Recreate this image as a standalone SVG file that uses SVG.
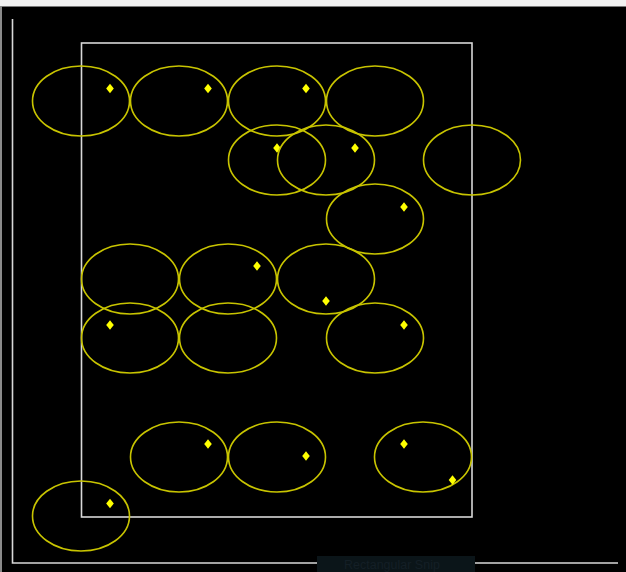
<svg xmlns="http://www.w3.org/2000/svg" width="626" height="572" viewBox="0 0 626 572">
<style>
.e{fill:none;stroke:#c8c400;stroke-width:1.6}
.d{fill:#ffff00}
.ax{stroke:#d8d8d8;stroke-width:1.6;fill:none}
</style>
<defs>
<ellipse id="el" class="e" cx="0" cy="0" rx="48.5" ry="35"/>
<path id="dm" class="d" d="M0,-4.8 L3.8,0 L0,4.8 L-3.8,0 Z"/>
</defs>
<rect width="626" height="572" fill="#000"/>
<rect x="0" y="0" width="626" height="6.5" fill="#f2f2f2"/>
<rect x="0" y="6" width="2" height="566" fill="#8a8a8a"/>
<g id="axes">
<polyline class="ax" points="12.5,19 12.5,563 618,563"/>
<rect class="ax" x="81.5" y="43" width="390.5" height="474"/>
</g>
<g id="snip">
<rect x="317" y="556" width="158" height="16" fill="#0b1519"/>
<text x="344" y="568.5" font-family="Liberation Sans, sans-serif" font-size="12.5" fill="#141f26">Rectangular Snip</text>
</g>
<g id="n1"><use href="#el" x="81" y="101"/><use href="#dm" x="110" y="88.5"/></g>
<g id="n2"><use href="#el" x="179" y="101"/><use href="#dm" x="208" y="88.5"/></g>
<g id="n3"><use href="#el" x="277" y="101"/><use href="#dm" x="306" y="88.5"/></g>
<g id="n4"><use href="#el" x="375" y="101"/></g>
<g id="n5"><use href="#el" x="277" y="160"/><use href="#dm" x="277" y="148"/></g>
<g id="n6"><use href="#el" x="326" y="160"/><use href="#dm" x="355" y="148"/></g>
<g id="n7"><use href="#el" x="472" y="160"/></g>
<g id="n8"><use href="#el" x="375" y="219"/><use href="#dm" x="404" y="207"/></g>
<g id="n9"><use href="#el" x="130" y="279"/></g>
<g id="n10"><use href="#el" x="228" y="279"/><use href="#dm" x="257" y="266"/></g>
<g id="n11"><use href="#el" x="326" y="279"/><use href="#dm" x="326" y="301"/></g>
<g id="n12"><use href="#el" x="130" y="338"/><use href="#dm" x="110" y="325"/></g>
<g id="n13"><use href="#el" x="228" y="338"/></g>
<g id="n14"><use href="#el" x="375" y="338"/><use href="#dm" x="404" y="325"/></g>
<g id="n15"><use href="#el" x="179" y="457"/><use href="#dm" x="208" y="444"/></g>
<g id="n16"><use href="#el" x="277" y="457"/><use href="#dm" x="306" y="456"/></g>
<g id="n17"><use href="#el" x="423" y="457"/><use href="#dm" x="404" y="444"/><use href="#dm" x="452.5" y="480"/></g>
<g id="n18"><use href="#el" x="81" y="516"/><use href="#dm" x="110" y="503.5"/></g>
<g id="connectors"></g>
</svg>
